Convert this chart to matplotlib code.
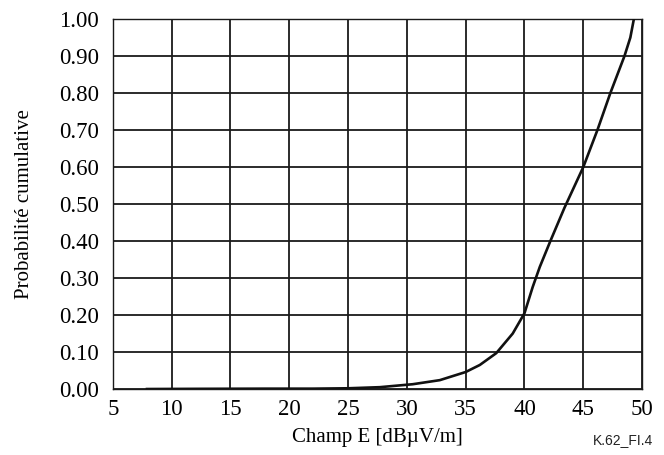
import numpy as np
import matplotlib.pyplot as plt

# Cumulative distribution of the measured E field
champ_e = [7.9, 12.0, 18.0, 22.0, 25.0, 27.7, 30.5, 32.8, 35.0, 36.2, 37.6,
           39.0, 40.0, 40.7, 41.3, 42.2, 43.0, 43.4, 45.0, 46.2, 47.3, 48.5,
           49.0, 49.3]
prob_cum = [0.0, 0.0005, 0.001, 0.001, 0.002, 0.005, 0.013, 0.024, 0.046,
            0.065, 0.097, 0.15, 0.205, 0.276, 0.33, 0.40, 0.46, 0.49, 0.60,
            0.70, 0.80, 0.90, 0.95, 1.00]

xticks = [5, 10, 15, 20, 25, 30, 35, 40, 45, 50]
yticks = np.arange(0, 1.01, 0.1)

serif = 'Liberation Serif'

fig = plt.figure(figsize=(6.64, 4.55), dpi=100)
ax = fig.add_axes([0.170, 0.145, 0.797, 0.813])

ax.plot(champ_e, prob_cum, color='#111111', linewidth=1.9, zorder=3)

ax.set_xlim(5, 50)
ax.set_ylim(0, 1)
ax.set_xticks(xticks)
ax.set_yticks(yticks)
ax.set_yticklabels(['%.2f' % v for v in yticks])
ax.grid(True, color='#1a1a1a', linewidth=1.3)
ax.tick_params(length=0, labelsize=16.5)
ax.tick_params(axis='x', pad=7)
ax.tick_params(axis='y', pad=10)
for lab in ax.get_xticklabels() + ax.get_yticklabels():
    lab.set_fontfamily(serif)
for sp in ax.spines.values():
    sp.set_color('#1a1a1a')
    sp.set_linewidth(1.0)

ax.set_xlabel('Champ E [dBµV/m]', fontfamily=serif, fontsize=15, labelpad=6)
ax.set_ylabel('Probabilité cumulative', fontfamily=serif, fontsize=15, labelpad=18)

fig.text(0.983, 0.032, 'K.62_FI.4', fontfamily='Liberation Sans', fontsize=10,
         ha='right', va='center', color='#222222')

plt.savefig('out.png', dpi=100)
